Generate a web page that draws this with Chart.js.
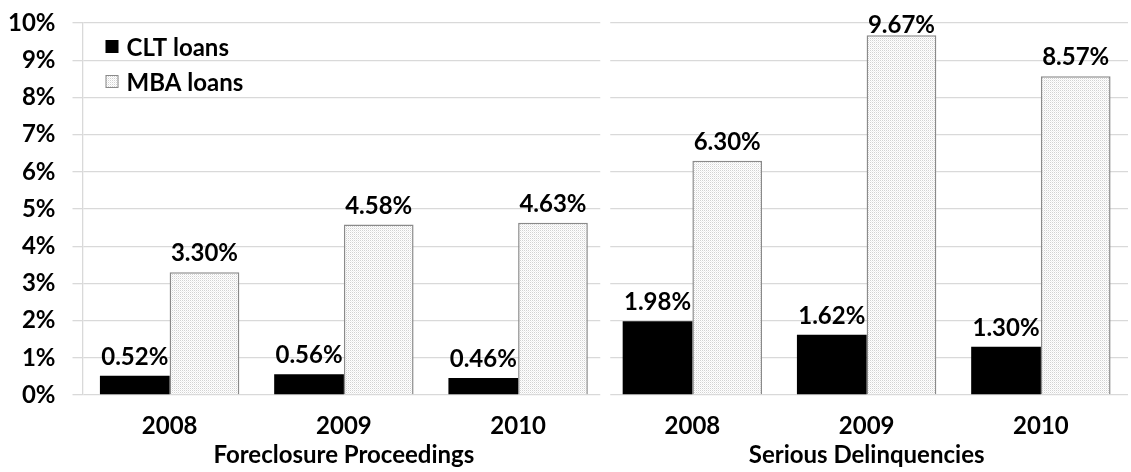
<!DOCTYPE html>
<html>
<head>
<meta charset="utf-8">
<script src="https://cdn.jsdelivr.net/npm/chart.js@4"></script>
<style>
  html, body { margin: 0; padding: 0; background: #fff; }
  #wrap { width: 1131px; height: 472px; position: relative; }
</style>
</head>
<body>
<div id="wrap"><canvas id="c" width="1131" height="472"></canvas></div>
<script>
// Years shown under each pair of bars (two panels of three years)
const years = ['2008', '2009', '2010', '2008', '2009', '2010'];
// Panel titles under the years
const panels = ['Foreclosure Proceedings', 'Serious Delinquencies'];
// Rates in percent
const cltLoans = [0.52, 0.56, 0.46, 1.98, 1.62, 1.30];
const mbaLoans = [3.30, 4.58, 4.63, 6.30, 9.67, 8.57];
const seriesNames = ['CLT loans', 'MBA loans'];

const FONT = 'Lato';
const FS = 24;
const GRID = '#d9d9d9';

// Fine dotted fill for the MBA bars
function dotPattern() {
  const p = document.createElement('canvas');
  p.width = 2; p.height = 2;
  const g = p.getContext('2d');
  g.fillStyle = '#ffffff';
  g.fillRect(0, 0, 2, 2);
  g.fillStyle = '#d2d2d2';
  g.fillRect(0, 0, 1, 1);
  g.fillStyle = '#eeeeee';
  g.fillRect(1, 1, 1, 1);
  return document.getElementById('c').getContext('2d').createPattern(p, 'repeat');
}
const dots = dotPattern();

// Blank strip between the two panels' gridlines
const panelGap = {
  id: 'panelGap',
  beforeDatasetsDraw(chart) {
    const { ctx, chartArea, scales } = chart;
    const mid = (scales.x.getPixelForValue(2) + scales.x.getPixelForValue(3)) / 2;
    ctx.save();
    ctx.fillStyle = '#ffffff';
    ctx.fillRect(mid - 5, chartArea.top - 2, 10, chartArea.bottom - chartArea.top + 4);
    ctx.restore();
  }
};

// Value labels above every bar
const valueLabels = {
  id: 'valueLabels',
  afterDatasetsDraw(chart) {
    const { ctx } = chart;
    ctx.save();
    ctx.font = 'bold ' + FS + 'px ' + FONT;
    ctx.fillStyle = '#000';
    ctx.textAlign = 'center';
    ctx.textBaseline = 'alphabetic';
    chart.data.datasets.forEach((ds, i) => {
      chart.getDatasetMeta(i).data.forEach((bar, j) => {
        const y = Math.max(bar.y - 11, 33);
        ctx.fillText(ds.data[j].toFixed(2) + '%', bar.x, y);
      });
    });
    ctx.restore();
  }
};

// Legend drawn inside the plot, top-left
const insideLegend = {
  id: 'insideLegend',
  afterDraw(chart) {
    const { ctx, chartArea } = chart;
    ctx.save();
    ctx.font = 'bold ' + FS + 'px ' + FONT;
    ctx.textBaseline = 'middle';
    chart.data.datasets.forEach((ds, i) => {
      const x = chartArea.left + 23;
      const cy = 47 + i * 35;
      ctx.fillStyle = ds.backgroundColor;
      ctx.fillRect(x, cy - 7, 13, 13);
      if (ds.borderWidth) {
        ctx.strokeStyle = ds.borderColor;
        ctx.lineWidth = 1;
        ctx.strokeRect(x + 0.5, cy - 6.5, 12, 12);
      }
      ctx.fillStyle = '#000';
      ctx.fillText(ds.label, x + 21, cy + 1);
    });
    ctx.restore();
  }
};

const tickFont = { family: FONT, weight: 'bold', size: FS };

new Chart(document.getElementById('c'), {
  type: 'bar',
  data: {
    labels: years,
    datasets: [
      { label: seriesNames[0], data: cltLoans, backgroundColor: '#000000', borderWidth: 0 },
      { label: seriesNames[1], data: mbaLoans, backgroundColor: dots, borderColor: '#8a8a8a', borderWidth: 1.5 }
    ]
  },
  options: {
    responsive: false,
    animation: false,
    events: [],
    layout: { padding: { top: 22, right: 3, left: 0, bottom: 0 } },
    datasets: { bar: { categoryPercentage: 0.8, barPercentage: 1.0 } },
    plugins: { legend: { display: false }, tooltip: { enabled: false } },
    scales: {
      y: {
        min: 0, max: 10,
        ticks: {
          stepSize: 1,
          padding: 17,
          color: '#000',
          font: { family: FONT, weight: 'bold', size: FS, lineHeight: 0.5 },
          callback: v => v + '%'
        },
        grid: { color: GRID, lineWidth: 1.3, tickLength: 10, drawTicks: true },
        border: { display: true, color: GRID, width: 1.3 },
        afterFit(s) { s.width = 82.5; }
      },
      x: {
        position: 'bottom',
        grid: { display: false, drawTicks: false },
        border: { display: false },
        ticks: { padding: 17, color: '#000', font: tickFont, maxRotation: 0 },
        afterFit(s) { s.height = 42; }
      },
      x2: {
        type: 'category',
        labels: panels,
        position: 'bottom',
        offset: true,
        grid: { display: false, drawTicks: false },
        border: { display: false },
        ticks: { padding: 4, color: '#000', font: tickFont, maxRotation: 0 },
        afterFit(s) { s.height = 35; }
      }
    }
  },
  plugins: [panelGap, valueLabels, insideLegend]
});
</script>
</body>
</html>
